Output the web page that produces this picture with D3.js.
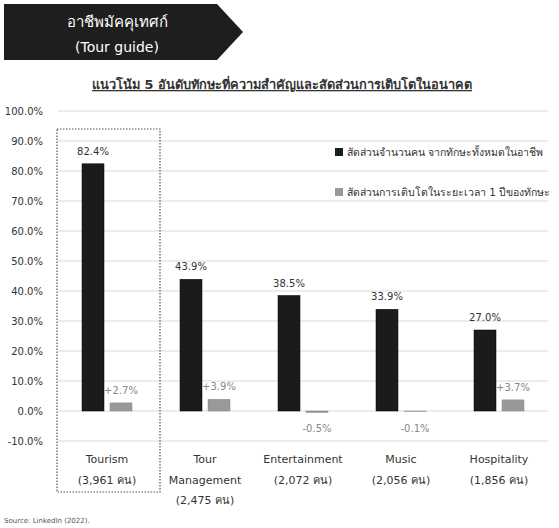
<!DOCTYPE html>
<html>
<head>
<meta charset="utf-8">
<script src="https://cdn.jsdelivr.net/npm/d3@7"></script>
<style>
  html, body { margin: 0; padding: 0; background: #fff; }
  svg { display: block; font-family: "DejaVu Sans", "Noto Sans", sans-serif; }
</style>
</head>
<body>
<svg id="chart" width="559" height="528"></svg>
<script>
// Skill categories and their applicant counts
const categories = ["Tourism", "Tour Management", "Entertainment", "Music", "Hospitality"];
const categoryLines = [
  ["Tourism", "(3,961 คน)"],
  ["Tour", "Management", "(2,475 คน)"],
  ["Entertainment", "(2,072 คน)"],
  ["Music", "(2,056 คน)"],
  ["Hospitality", "(1,856 คน)"]
];
// Share of people with the skill (%)
const shareValues = [82.4, 43.9, 38.5, 33.9, 27.0];
// One-year growth of the skill (%)
const growthValues = [2.7, 3.9, -0.5, -0.1, 3.7];
// Y axis ticks (%)
const yTicks = [-10, 0, 10, 20, 30, 40, 50, 60, 70, 80, 90, 100];
const legendLabels = ["สัดส่วนจำนวนคน จากทักษะทั้งหมดในอาชีพ", "สัดส่วนการเติบโตในระยะเวลา 1 ปีของทักษะ"];

const svg = d3.select("#chart");
const colors = { share: "#1b1b1b", growth: "#999999" };
// Percent with one decimal, plain hyphen for negatives
const pct = v => v.toFixed(1) + "%";

// Header badge
const header = svg.append("g");
header.append("path")
  .attr("d", "M4,4 L217,4 L243,32 L217,60 L4,60 Z")
  .attr("fill", "#1e1e1e");
header.append("text").attr("x", 117).attr("y", 27)
  .attr("text-anchor", "middle").attr("fill", "#fff").attr("font-size", 15)
  .text("อาชีพมัคคุเทศก์");
header.append("text").attr("x", 117).attr("y", 52)
  .attr("text-anchor", "middle").attr("fill", "#fff").attr("font-size", 14)
  .text("(Tour guide)");

// Title
svg.append("text").attr("x", 282).attr("y", 89)
  .attr("text-anchor", "middle").attr("fill", "#333").attr("font-size", 12.8)
  .attr("font-weight", "bold").attr("text-decoration", "underline")
  .text("แนวโน้ม 5 อันดับทักษะที่ความสำคัญและสัดส่วนการเติบโตในอนาคต");

// Scales
const x = d3.scaleBand().domain(categories).range([58, 548]).padding(0);
const y = d3.scaleLinear().domain([-10, 100]).range([441, 111]);
const barW = 22, gap = 6;

// Gridlines
svg.append("g").selectAll("line").data(yTicks).join("line")
  .attr("x1", 58).attr("x2", 548)
  .attr("y1", d => y(d)).attr("y2", d => y(d))
  .attr("stroke", "#d9d9d9").attr("stroke-width", 1);

// Y axis labels
const yAxis = d3.axisLeft(y).tickValues(yTicks)
  .tickFormat(pct).tickSize(0).tickPadding(0);
const yg = svg.append("g").attr("transform", "translate(43,0)").call(yAxis);
yg.select(".domain").remove();
yg.selectAll("text").attr("font-size", 10).attr("fill", "#333")
  .attr("font-family", "DejaVu Sans, sans-serif");

// Highlight box around the first category
svg.append("rect")
  .attr("x", 57).attr("y", 129).attr("width", 103).attr("height", 363)
  .attr("fill", "none").attr("stroke", "#555").attr("stroke-width", 1.2)
  .attr("stroke-dasharray", "1.5,1.5");

const cx = d => x(d) + x.bandwidth() / 2;

// Share bars
svg.append("g").selectAll("rect").data(categories).join("rect")
  .attr("x", d => cx(d) - gap / 2 - barW)
  .attr("width", barW)
  .attr("y", (d, i) => y(shareValues[i]))
  .attr("height", (d, i) => y(0) - y(shareValues[i]))
  .attr("fill", colors.share).attr("stroke", "#000").attr("stroke-width", 0.5);

// Growth bars
svg.append("g").selectAll("rect").data(categories).join("rect")
  .attr("x", d => cx(d) + gap / 2)
  .attr("width", barW)
  .attr("y", (d, i) => y(Math.max(0, growthValues[i])))
  .attr("height", (d, i) => Math.abs(y(0) - y(growthValues[i])))
  .attr("fill", colors.growth).attr("stroke", "#888").attr("stroke-width", 0.5);

// Share labels
svg.append("g").selectAll("text").data(categories).join("text")
  .attr("x", d => cx(d) - gap / 2 - barW / 2)
  .attr("y", (d, i) => y(shareValues[i]) - 9)
  .attr("text-anchor", "middle").attr("font-size", 10).attr("fill", "#333")
  .text((d, i) => pct(shareValues[i]));

// Growth labels
svg.append("g").selectAll("text").data(categories).join("text")
  .attr("x", d => cx(d) + gap / 2 + barW / 2)
  .attr("y", (d, i) => growthValues[i] >= 0 ? y(growthValues[i]) - 9 : y(0) + 21)
  .attr("text-anchor", "middle").attr("font-size", 10).attr("fill", "#888")
  .text((d, i) => (growthValues[i] >= 0 ? "+" : "") + pct(growthValues[i]));

// Category labels
const catG = svg.append("g").selectAll("text").data(categories).join("text")
  .attr("text-anchor", "middle").attr("font-size", 11).attr("fill", "#333")
  .attr("x", d => cx(d))
  .attr("y", 463);
catG.selectAll("tspan").data((d, i) => categoryLines[i]).join("tspan")
  .attr("x", function () { return d3.select(this.parentNode).attr("x"); })
  .attr("dy", (d, j) => j === 0 ? 0 : 20.5)
  .text(d => d);

// Legend
const legend = svg.append("g");
legendLabels.forEach((label, i) => {
  const ly = 152 + i * 40;
  legend.append("rect").attr("x", 335).attr("y", ly - 4).attr("width", 8).attr("height", 8)
    .attr("fill", i === 0 ? colors.share : colors.growth);
  legend.append("text").attr("x", 347).attr("y", ly + 4)
    .attr("font-size", 10.5).attr("fill", "#333").text(label);
});

// Source
svg.append("text").attr("x", 4).attr("y", 523)
  .attr("font-size", 7).attr("fill", "#555").text("Source: LinkedIn (2022).");
</script>
</body>
</html>
